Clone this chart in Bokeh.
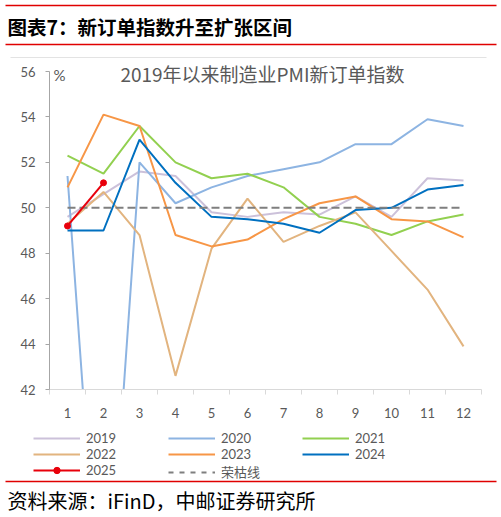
from bokeh.plotting import figure
from bokeh.layouts import column
from bokeh.models import (Range1d, FixedTicker, Label, BoxAnnotation, Legend, LegendItem)
from bokeh.embed import file_html
from bokeh.resources import INLINE

months = list(range(1, 13))
tick_labels = [str(m) for m in months]
v2019 = [49.6, 50.6, 51.6, 51.4, 49.8, 49.6, 49.8, 49.7, 50.5, 49.6, 51.3, 51.2]
v2020 = [51.4, 29.3, 52.0, 50.2, 50.9, 51.4, 51.7, 52.0, 52.8, 52.8, 53.9, 53.6]
v2021 = [52.3, 51.5, 53.6, 52.0, 51.3, 51.5, 50.9, 49.6, 49.3, 48.8, 49.4, 49.7]
v2022 = [49.3, 50.7, 48.8, 42.6, 48.2, 50.4, 48.5, 49.2, 49.8, 48.1, 46.4, 43.9]
v2023 = [50.9, 54.1, 53.6, 48.8, 48.3, 48.6, 49.5, 50.2, 50.5, 49.5, 49.4, 48.7]
v2024 = [49.0, 49.0, 53.0, 51.1, 49.6, 49.5, 49.3, 48.9, 49.9, 50.0, 50.8, 51.0]
v2025 = [49.2, 51.1]
boom_bust = [50.0] * 12
y_ticks = [42, 44, 46, 48, 50, 52, 54, 56]

series = [
    ("2019", v2019, "#CCC1DA"),
    ("2020", v2020, "#8DB4E2"),
    ("2021", v2021, "#92D050"),
    ("2022", v2022, "#E2B47F"),
    ("2023", v2023, "#F79646"),
    ("2024", v2024, "#0070C0"),
]
RED25 = "#E8000B"
DASH_GRAY = "#7F7F7F"

NUM_FONT = "Lato, 'Noto Sans CJK SC'"
CJK_FONT = "'Noto Sans CJK SC'"
GRAY = "#595959"
RULE_RED = "#E00000"


def blank(height):
    f = figure(width=501, height=height, output_backend="svg", toolbar_location=None,
               x_axis_type=None, y_axis_type=None, x_range=Range1d(0, 1), y_range=Range1d(0, 1),
               min_border_left=0, min_border_right=0, min_border_top=0, min_border_bottom=0,
               frame_align=False)
    f.outline_line_color = None
    f.xgrid.visible = False
    f.ygrid.visible = False
    return f


def hline(fig, y, thick, left, right, color):
    fig.add_layout(BoxAnnotation(left=left, right=right, top=y + thick / 2, bottom=y - thick / 2,
                                 left_units="screen", right_units="screen",
                                 top_units="screen", bottom_units="screen",
                                 fill_color=color, fill_alpha=1, line_color=None))


# ---------- header ----------
H_T = 58
top = blank(H_T)
hline(top, H_T - 5, 1.5, 5, 496, RULE_RED)
hline(top, H_T - 44, 1.5, 5, 496, RULE_RED)
hline(top, 1.0, 1.0, 10, 486, "#E3E3E3")
top.add_layout(Label(x=7, y=H_T - 26, x_units="screen", y_units="screen",
                     text="图表7：新订单指数升至扩张区间", text_font=CJK_FONT,
                     text_font_size="19.5px", text_font_style="bold", text_color="#000000",
                     text_baseline="middle", text_align="left"))

# ---------- chart ----------
H_C = 367
px_per_unit = 318 / 14.0
y_top = 56 + 13 / px_per_unit
p = figure(width=501, height=H_C, output_backend="svg", toolbar_location=None,
           x_range=Range1d(0.5, 12.5), y_range=Range1d(42, y_top),
           min_border_left=49, min_border_right=20, min_border_top=0, min_border_bottom=36,
           frame_align=False)
p.outline_line_color = None
p.xgrid.visible = False
p.ygrid.visible = False

p.xaxis.ticker = FixedTicker(ticks=months, minor_ticks=[m - 0.5 for m in months] + [12.5])
p.xaxis.major_label_overrides = {m: l for m, l in zip(months, tick_labels)}
p.xaxis.axis_line_color = "#D9D9D9"
p.xaxis.major_tick_line_color = None
p.xaxis.major_tick_out = 0
p.xaxis.major_tick_in = 0
p.xaxis.minor_tick_line_color = "#D9D9D9"
p.xaxis.minor_tick_out = 5
p.xaxis.minor_tick_in = 0
p.xaxis.major_label_standoff = 13
p.xaxis.major_label_text_font = NUM_FONT
p.xaxis.major_label_text_font_size = "13px"
p.xaxis.major_label_text_color = GRAY

p.yaxis.ticker = FixedTicker(ticks=y_ticks, minor_ticks=[])
p.yaxis.bounds = (42, 56)
p.yaxis.axis_line_color = "#A6A6A6"
p.yaxis.major_tick_line_color = "#A6A6A6"
p.yaxis.major_tick_out = 4
p.yaxis.major_tick_in = 0
p.yaxis.minor_tick_line_color = None
p.yaxis.major_label_standoff = 10
p.yaxis.major_label_text_font = NUM_FONT
p.yaxis.major_label_text_font_size = "13px"
p.yaxis.major_label_text_color = GRAY

for name, vals, color in series:
    p.line(months, vals, line_color=color, line_width=2)
p.line(months, boom_bust, line_color=DASH_GRAY, line_width=2, line_dash="8 4")
p.line(months[:2], v2025, line_color=RED25, line_width=2)
p.scatter(months[:2], v2025, size=6, color=RED25)

p.add_layout(Label(x=213, y=316, x_units="screen", y_units="screen",
                   text="2019年以来制造业PMI新订单指数", text_font=CJK_FONT,
                   text_font_size="19px", text_color=GRAY,
                   text_baseline="middle", text_align="center"))
p.add_layout(Label(x=4, y=315, x_units="screen", y_units="screen",
                   text="%", text_font=NUM_FONT,
                   text_font_size="15px", text_color=GRAY,
                   text_baseline="middle", text_align="left"))

# ---------- legend + source ----------
H_B = 92
bot = blank(H_B)
# legend proxies: same styles, placed outside the visible range of this strip
px = [-5, -4]
rend = {}
for name, vals, color in series:
    rend[name] = [bot.line(px, px, line_color=color, line_width=2)]
rend["2025"] = [bot.line(px, px, line_color=RED25, line_width=2),
                bot.scatter(px, px, size=5, color=RED25)]
rend["荣枯线"] = [bot.line(px, px, line_color=DASH_GRAY, line_width=2, line_dash="5 6")]

ROW_H = 16
LEG_TOP = 5  # distance from top of strip
legend_columns = [
    (33, ["2019", "2022", "2025"], 0),
    (168, ["2020", "2023", "荣枯线"], 3),
    (302, ["2021", "2024"], 0),
]
for x0, names, extra in legend_columns:
    lg = Legend(items=[LegendItem(label=n, renderers=rend[n]) for n in names],
                location=(x0, H_B - LEG_TOP - ROW_H * len(names) - extra),
                orientation="vertical",
                padding=0, margin=0, spacing=0, glyph_width=47, glyph_height=ROW_H,
                label_height=ROW_H, label_standoff=6,
                label_text_font=NUM_FONT, label_text_font_size="13px",
                label_text_color=GRAY, border_line_color=None, background_fill_alpha=0)
    bot.add_layout(lg)

hline(bot, H_B - 56, 1.5, 5, 496, RULE_RED)
bot.add_layout(Label(x=7, y=H_B - 75, x_units="screen", y_units="screen",
                     text="资料来源：iFinD，中邮证券研究所", text_font=CJK_FONT,
                     text_font_size="20px", text_color="#000000",
                     text_baseline="middle", text_align="left"))

layout = column(top, p, bot, spacing=0)
open("out.html", "w").write(file_html(layout, INLINE))
